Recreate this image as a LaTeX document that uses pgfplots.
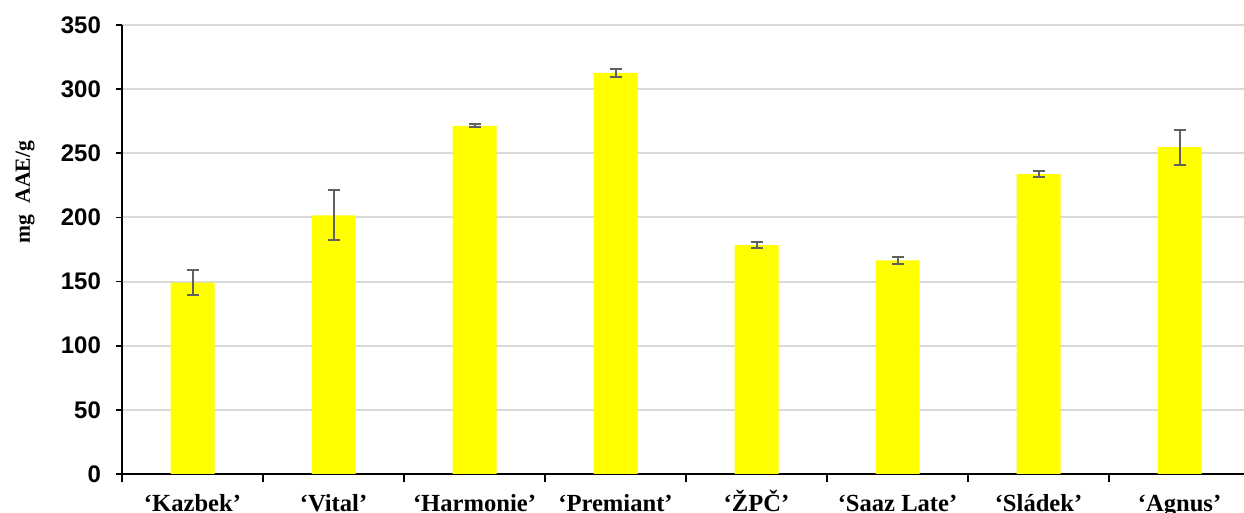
\documentclass[border=0pt]{standalone}
\usepackage{fontspec}
\setmainfont{Liberation Serif}
\newfontfamily\arial{Liberation Sans}
\usepackage{pgfplots}
\pgfplotsset{compat=1.18}
\definecolor{gridgray}{HTML}{D9D9D9}
\definecolor{errgray}{HTML}{606060}
\definecolor{baryellow}{RGB}{255,255,0}
\begin{document}
\begin{tikzpicture}
\begin{axis}[
  at={(0,0)}, anchor=south west,
  scale only axis,
  width=561pt, height=224.5pt,
  xmin=-0.5, xmax=7.457,
  ymin=0, ymax=350,
  ytick={0,50,...,350},
  axis x line*=bottom, axis y line*=left,
  axis line style={black, line width=0.9pt},
  ymajorgrids, grid style={gridgray, line width=1pt},
  xtick={0,...,7},
  xticklabels={‘Kazbek’,‘Vital’,‘Harmonie’,‘Premiant’,‘ŽPČ’,‘Saaz Late’,‘Sládek’,‘Agnus’},
  minor xtick={-0.5,0.5,...,6.5},
  xtick style={draw=none},
  minor x tick style={draw=black, line width=0.9pt},
  minor tick length=4pt,
  xtick align=outside, ytick align=outside,
  ytick style={black, line width=0.9pt},
  major tick length=3pt,
  /pgf/number format/assume math mode=true,
  yticklabel style={font=\arial\bfseries\fontsize{12}{14}\selectfont, xshift=-4pt},
  xticklabel style={font=\bfseries\fontsize{12.3}{14}\selectfont, anchor=base, yshift=-15.6pt},
  ylabel={mg\ \ AAE/g},
  ylabel style={font=\bfseries\fontsize{10.8}{12}\selectfont, at={(axis description cs:-0.0864,0.628)}, anchor=center},
  ybar, bar width=22pt,
  clip=false,
]
\addplot[fill=baryellow, draw=none,
  error bars/.cd, y dir=both, y explicit,
  error bar style={errgray, line width=1pt},
  error mark options={errgray, line width=1pt, mark size=3pt, rotate=90}]
coordinates {
(0,149.2) +- (0,9.8)
(1,201.6) +- (0,19.5)
(2,271.3) +- (0,1.2)
(3,312.6) +- (0,3.4)
(4,178.4) +- (0,2.4)
(5,166.6) +- (0,2.6)
(6,233.8) +- (0,2.4)
(7,254.8) +- (0,13.6)
};
\end{axis}
\pgfresetboundingbox
\path (-61pt,-19.5pt) rectangle (561pt,237pt);
\end{tikzpicture}
\end{document}
